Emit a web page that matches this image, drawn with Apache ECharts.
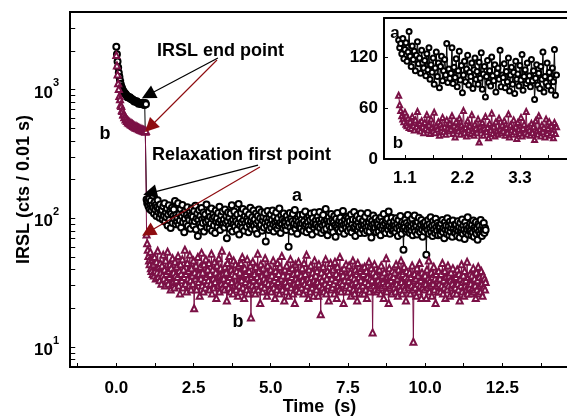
<!DOCTYPE html>
<html><head><meta charset="utf-8">
<script src="https://cdn.jsdelivr.net/npm/echarts@6/dist/echarts.min.js"></script>
<style>html,body{margin:0;padding:0;background:#fff}#c{width:567px;height:416px}</style>
</head><body><div id="c"></div>
<script>
// IRSL stimulation (t = 0 .. 0.96 s, step 0.02 s)
const irslStep = 0.02;
const irslA = [2150,1880,1650,1480,1350,1250,1170,1110,1060,1030,1000,975,960,945,930,925,905,895,872,880,872,865,870,851,845,840,842,828,823,808,813,808,804,812,796,792,776,784,781,778,775,772,769,791,766,763,760,785,770];
const irslB = [1850,1540,1310,1120,1010,890,840,760,745,690,680,640,640,610,612,585,595,570,580,555,568,548,556,538,548,530,540,520,530,515,524,508,518,502,512,497,506,492,500,487,495,482,490,478,486,474,481,470,476];
// Relaxation (t = 0.98 .. 11.96 s, step 0.02 s; 25 values per row = 0.5 s)
const relaxStart = 0.98, relaxStep = 0.02;
const relaxA = [
140,131,136,124,142,118,129,137,115,126,150,121,109,133,117,127,104,122,138,112,119,101,128,113,107,
116,98,124,105,131,94,111,102,119,88,107,126,97,113,84,109,121,92,104,117,99,136,90,106,95,
101,131,89,108,96,118,85,104,127,93,110,78,99,115,91,106,122,87,102,97,113,83,105,119,94,
103,88,114,95,125,82,100,109,73,97,116,90,104,86,120,98,92,111,79,101,107,94,128,85,99,
96,112,84,103,91,119,80,99,108,88,102,77,115,94,100,86,110,93,123,81,97,105,89,113,92,
98,85,117,92,104,70,95,111,87,101,83,109,94,126,79,97,90,113,86,102,95,81,107,91,129,
75,99,88,110,93,84,118,97,80,104,91,113,86,100,95,78,107,89,121,94,83,102,90,115,87,
98,82,109,91,76,104,95,117,86,100,89,112,80,96,103,85,110,92,66,99,87,114,94,81,101,
89,107,84,97,115,90,79,103,93,86,111,96,83,100,88,119,92,77,105,90,98,84,109,95,87,
93,81,104,88,97,60,92,110,85,99,79,95,108,87,91,116,83,98,89,76,102,94,86,106,90,
84,98,91,107,80,95,87,113,90,78,101,93,86,104,82,97,109,88,75,100,92,85,111,89,96,
90,79,103,86,96,112,84,92,77,99,88,106,81,94,89,118,83,97,74,91,102,87,95,80,108,
85,97,78,93,104,88,72,99,86,110,82,91,96,79,101,87,93,83,114,89,76,98,90,84,103,
92,80,101,87,95,83,107,78,90,98,84,112,86,73,97,89,104,81,93,86,99,77,109,88,94,
82,96,88,77,103,85,92,80,110,87,94,79,99,86,71,95,89,105,81,91,84,100,78,93,87,
90,79,98,86,74,102,83,94,88,108,80,91,77,96,85,99,82,113,87,76,93,84,101,80,89,
81,95,87,78,100,84,91,73,97,86,80,104,89,76,93,83,57,90,85,98,79,92,82,106,88,
84,77,96,86,80,99,74,90,83,105,79,92,87,75,94,81,101,85,78,89,97,82,72,91,86,
79,93,85,52,88,81,97,76,90,84,102,78,87,73,95,82,89,77,99,85,80,92,74,88,83,
86,75,91,80,97,78,84,70,93,82,88,76,100,81,87,74,94,79,85,90,72,96,83,78,89,
77,90,82,73,95,80,86,71,92,79,84,98,76,88,81,69,93,78,87,82,102,75,85,80,91,
80,74,89,78,96,72,85,81,93,76,83,68,90,79,87,75,97,82,73,88,79,92,77,84,81];
const relaxB = [
75,64,57,51,47,44,55,41,39,48,37,44,36,50,39,34,46,38,56,35,42,33,45,38,31,
43,36,52,34,40,30,47,37,33,55,31,39,35,44,28,41,37,49,32,38,29,46,36,33,42,
35,51,30,39,26,44,37,33,48,29,40,35,57,31,37,27,45,34,39,30,52,33,28,41,36,
31,47,20,38,34,43,28,36,50,32,37,25,42,34,54,30,38,27,44,33,29,48,35,31,40,
33,45,28,37,31,53,26,40,34,29,46,32,38,24,43,35,30,49,27,36,41,31,56,29,37,
34,28,42,31,38,23,45,33,29,51,35,27,40,32,37,26,47,30,36,44,28,39,31,25,43,
30,38,27,45,33,50,29,36,24,41,32,37,28,48,34,26,39,31,43,17,35,30,46,33,28,
37,26,42,31,35,53,28,39,33,22,44,30,36,27,41,34,29,49,32,38,25,43,31,35,28,
34,40,27,36,31,47,29,33,24,39,35,28,45,32,37,26,42,30,34,51,28,36,31,23,40,
32,27,43,30,36,25,39,33,48,29,35,41,26,37,31,22,44,34,28,38,32,46,27,35,30,
36,29,41,33,26,45,31,37,28,52,30,34,24,40,32,27,43,35,29,38,25,33,47,31,36,
28,39,32,25,44,30,35,18,38,33,29,42,27,36,31,48,26,34,39,30,23,37,32,45,28,
34,29,40,31,26,46,33,37,24,42,30,35,28,50,32,27,39,31,36,22,41,33,29,44,30,
36,27,33,43,29,38,25,35,31,47,28,34,26,40,32,37,23,45,30,35,28,39,33,26,41,
30,37,26,42,32,28,39,24,35,31,46,27,34,29,41,33,13,38,30,44,28,36,32,27,39,
33,28,40,31,26,43,29,36,32,24,38,30,34,49,27,35,31,22,41,29,36,33,26,39,30,
35,29,38,27,44,31,34,25,40,30,36,28,47,32,26,37,30,42,28,35,23,39,31,34,29,
32,38,26,35,30,43,28,11,33,37,29,34,25,41,31,36,27,45,30,33,24,38,29,35,31,
28,36,31,24,40,29,34,47,27,33,30,38,25,35,31,42,28,34,22,37,30,33,27,39,31,
34,27,37,30,45,26,33,29,39,24,35,31,28,43,30,36,25,33,38,29,31,41,26,34,30,
29,35,26,40,31,28,37,23,34,30,44,27,32,36,25,39,30,33,28,46,26,35,31,29,37,
31,26,36,29,41,27,34,30,24,38,28,33,42,26,35,30,27,39,31,25,36,29,34,28,32];
const insetEnd = 4.0;
// axis ticks / labels
const xLabelValues = [0, 2.5, 5, 7.5, 10, 12.5];
const xTickValues = [-1.25,0,1.25,2.5,3.75,5,6.25,7.5,8.75,10,11.25,12.5,13.75];
const yLabelValues = [10, 100, 1000];
const yTickValues = [8,9,10,20,30,40,50,60,70,80,90,100,200,300,400,500,600,700,800,900,1000,2000,3000];
const insetXLabelValues = [1.1, 2.2, 3.3];
const insetXTickValues = [1.1, 1.65, 2.2, 2.75, 3.3, 3.85];
const insetYLabelValues = [0, 60, 120];

const FONT = "'Liberation Sans', Arial, sans-serif";
const RED = '#7b1146';
const ARROW_RED = '#8e0c10';
const X_MIN = -1.5, X_MAX = 14.66;
const Y_MIN = 7, Y_MAX = 4000;
const Y_TICK_LEN = 0.17; // tick length along x, in seconds (~5 px)

function build(irsl, relax) {
  const out = irsl.map((v, i) => [+(i * irslStep).toFixed(2), v]);
  relax.forEach((v, i) => out.push([+(relaxStart + i * relaxStep).toFixed(2), v]));
  return out;
}
function buildInset(relax) {
  const out = [];
  relax.forEach((v, i) => { const t = +(relaxStart + i * relaxStep).toFixed(2); if (t <= insetEnd) out.push([t, v]); });
  return out;
}
const mainA = build(irslA, relaxA), mainB = build(irslB, relaxB);
const insA = buildInset(relaxA), insB = buildInset(relaxB);

const lbl = { fontFamily: FONT, fontWeight: 'bold', fontSize: 17, color: '#000' };
const axLine = () => ({ show: true, onZero: false, lineStyle: { color: '#000', width: 2 } });
const tickStyle = { color: '#000', width: 1 };
const nameStyle = { fontFamily: FONT, fontWeight: 'bold', fontSize: 18, color: '#000' };

function ser(name, data, sym, color, xi, yi, size, extra) {
  return Object.assign({
    name, type: 'line', data, xAxisIndex: xi, yAxisIndex: yi,
    symbol: sym, symbolSize: size, showAllSymbol: true, silent: true,
    lineStyle: { color, width: 1 }, itemStyle: { color, borderColor: color, borderWidth: 1 },
    animation: false, z: 3
  }, extra || {});
}

const arrowLine = (from, to, color) => [
  { coord: from, symbol: 'none', lineStyle: { color, width: 1.2, type: 'solid' } },
  { coord: to, symbol: 'triangle', symbolSize: 14, itemStyle: { color } }
];

const chart = echarts.init(document.getElementById('c'), null, { renderer: 'canvas' });
chart.setOption({
  animation: false,
  backgroundColor: '#fff',
  grid: [
    { left: 70, top: 12, width: 499, height: 355, show: true, borderColor: '#000', borderWidth: 2,
      backgroundColor: 'transparent', outerBoundsMode: 'none', containLabel: false },
    { left: 384, top: 18, width: 183, height: 141, outerBoundsMode: 'none', containLabel: false }
  ],
  xAxis: [
    { type: 'value', gridIndex: 0, min: X_MIN, max: X_MAX, position: 'bottom',
      name: 'Time  (s)', nameLocation: 'middle', nameGap: 31, nameMoveOverlap: false, nameTextStyle: nameStyle,
      axisLine: axLine(), splitLine: { show: false },
      axisTick: { inside: true, length: 4, customValues: xTickValues, lineStyle: tickStyle },
      axisLabel: Object.assign({ customValues: xLabelValues, margin: 13, formatter: v => v.toFixed(1) }, lbl) },
    { type: 'value', gridIndex: 1, min: 0.7, max: 4.2, position: 'bottom',
      axisLine: axLine(), splitLine: { show: false },
      axisTick: { inside: true, length: 4, customValues: insetXTickValues, lineStyle: tickStyle },
      axisLabel: Object.assign({ customValues: insetXLabelValues, margin: 11, formatter: v => v.toFixed(1) }, lbl) },
    { type: 'value', gridIndex: 1, min: 0.7, max: 4.2, position: 'top',
      axisLine: axLine(), axisTick: { show: false }, axisLabel: { show: false }, splitLine: { show: false } }
  ],
  yAxis: [
    { type: 'log', logBase: 10, gridIndex: 0, min: Y_MIN, max: Y_MAX, position: 'left',
      name: 'IRSL (cts / 0.01 s)', nameLocation: 'middle', nameGap: 37, nameMoveOverlap: false, nameTextStyle: nameStyle,
      axisLine: { show: false, onZero: false }, splitLine: { show: false }, axisTick: { show: false },
      axisLabel: { showMinLabel: false, showMaxLabel: false, margin: 11,
        formatter: v => yLabelValues.indexOf(Math.round(v)) >= 0 ? '{b|10}{s|' + Math.round(Math.log10(v)) + '}' : '',
        rich: {
          b: { fontFamily: FONT, fontWeight: 'bold', fontSize: 17, color: '#000', lineHeight: 24, verticalAlign: 'bottom' },
          s: { fontFamily: FONT, fontWeight: 'bold', fontSize: 11, color: '#000', lineHeight: 24, verticalAlign: 'top' }
        } } },
    { type: 'value', gridIndex: 1, min: 0, max: 166, interval: 60, position: 'left',
      axisLine: axLine(), splitLine: { show: false },
      axisTick: { inside: true, length: 4, lineStyle: tickStyle },
      axisLabel: Object.assign({ margin: 6, formatter: v => insetYLabelValues.indexOf(v) >= 0 ? String(v) : '' }, lbl) }
  ],
  series: [
    ser('a', mainA, 'emptyCircle', '#000', 0, 0, 6, {
      markLine: { silent: true, animation: false, label: { show: false }, lineStyle: { type: 'solid' },
        data: [
          arrowLine([3.29, 1758], [1.03, 907], '#000'),
          arrowLine([3.26, 1694], [1.09, 512], ARROW_RED),
          arrowLine([4.59, 259], [1.09, 157], '#000'),
          arrowLine([4.65, 250], [1.03, 78], ARROW_RED)
        ] } }),
    ser('b', mainB, 'emptyTriangle', RED, 0, 0, 6),
    ser('a-inset', insA, 'emptyCircle', '#000', 1, 1, 5),
    ser('b-inset', insB, 'emptyTriangle', RED, 1, 1, 5),
    // sub-decade tick marks of the log axis, placed through the axis scales
    { name: 'yTicks', type: 'lines', coordinateSystem: 'cartesian2d', xAxisIndex: 0, yAxisIndex: 0,
      silent: true, animation: false, z: 5, clip: false,
      lineStyle: { color: '#000', width: 1, opacity: 1, curveness: 0 },
      data: yTickValues.map(v => ({ coords: [[X_MIN, v], [X_MIN + Y_TICK_LEN, v]] })) }
  ],
  graphic: [
    { type: 'text', x: 157, y: 51, z: 10, style: { text: 'IRSL end point', font: 'bold 18px ' + FONT, fill: '#000', verticalAlign: 'middle' } },
    { type: 'text', x: 152, y: 155, z: 10, style: { text: 'Relaxation first point', font: 'bold 18px ' + FONT, fill: '#000', verticalAlign: 'middle' } },
    { type: 'text', x: 297, y: 196, z: 10, style: { text: 'a', font: 'bold 18px ' + FONT, fill: '#000', align: 'center', verticalAlign: 'middle' } },
    { type: 'text', x: 238, y: 322, z: 10, style: { text: 'b', font: 'bold 18px ' + FONT, fill: '#000', align: 'center', verticalAlign: 'middle' } },
    { type: 'text', x: 105, y: 134, z: 10, style: { text: 'b', font: 'bold 18px ' + FONT, fill: '#000', align: 'center', verticalAlign: 'middle' } },
    { type: 'text', x: 120, y: 77, z: 1, style: { text: 'a', font: 'bold 15px ' + FONT, fill: '#000', align: 'center', verticalAlign: 'middle' } },
    { type: 'text', x: 395, y: 33, z: 10, style: { text: 'a', font: 'bold 17px ' + FONT, fill: '#000', align: 'center', verticalAlign: 'middle' } },
    { type: 'text', x: 398, y: 143, z: 10, style: { text: 'b', font: 'bold 17px ' + FONT, fill: '#000', align: 'center', verticalAlign: 'middle' } }
  ]
});
</script></body></html>
